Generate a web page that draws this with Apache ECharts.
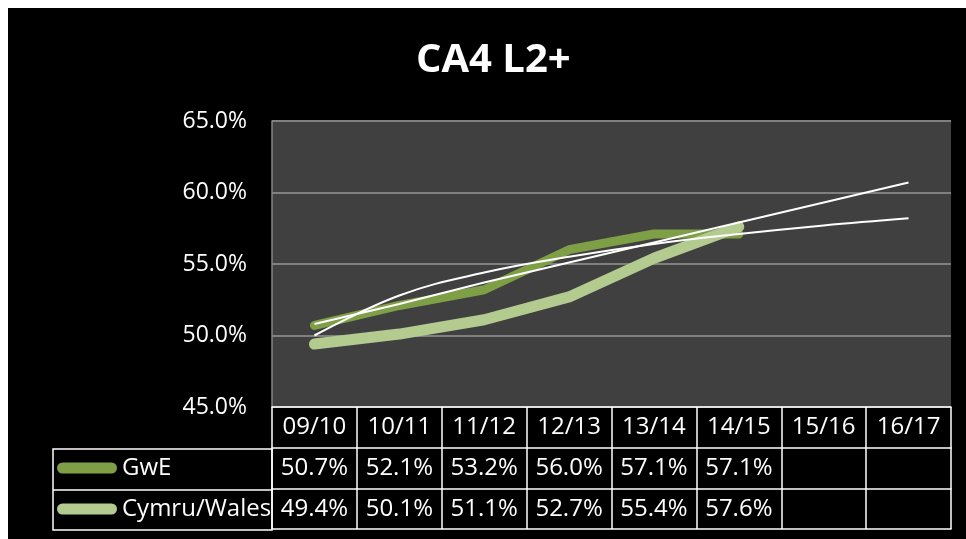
<!DOCTYPE html>
<html>
<head>
<meta charset="utf-8">
<script src="https://cdn.jsdelivr.net/npm/echarts@6/dist/echarts.min.js"></script>
<style>
  html, body { margin: 0; padding: 0; background: #fff; }
  #chart { position: absolute; left: 8px; top: 8px; width: 958px; height: 531px; }
</style>
</head>
<body>
<div id="chart"></div>
<script>
// school years
const years = ['09/10', '10/11', '11/12', '12/13', '13/14', '14/15', '15/16', '16/17'];
// CA4 L2+ (%)
const gwe = [50.7, 52.1, 53.2, 56.0, 57.1, 57.1, null, null];
const wales = [49.4, 50.1, 51.1, 52.7, 55.4, 57.6, null, null];
// white trend lines
const gweTrendLinear = [50.8, 52.2, 53.7, 55.1, 56.5, 57.9, 59.3, 60.7];
const gweTrendLog = [50.0, 52.8, 54.4, 55.5, 56.4, 57.1, 57.7, 58.2];
const yTicks = [45, 50, 55, 60, 65];

const FONT = '"Open Sans", "Noto Sans", sans-serif';
const GWE_COLOR = '#7f9f46';
const WALES_COLOR = '#b3cb8f';

const fmt = function (arr) {
    return function (v, i) {
        return arr[i] == null ? '' : arr[i].toFixed(1) + '%';
    };
};

// one category axis per table row, stacked under the plot
const tableAxis = function (offset, len, formatter) {
    return {
        type: 'category',
        data: years,
        position: 'bottom',
        offset: offset,
        axisLine: { show: true, lineStyle: { color: '#fff', width: 1.5 } },
        axisTick: { show: len > 0, interval: 0, length: len, lineStyle: { color: '#fff', width: 1.5 } },
        axisLabel: {
            show: !!formatter,
            interval: 0,
            formatter: formatter,
            color: '#fff',
            fontFamily: FONT,
            fontSize: 24,
            margin: 8
        },
        splitLine: { show: false }
    };
};

const chart = echarts.init(document.getElementById('chart'));

const option = {
    backgroundColor: '#000',
    animation: false,
    title: {
        text: 'CA4 L2+',
        left: 408,
        top: 33,
        padding: 0,
        textStyle: { color: '#fff', fontFamily: FONT, fontWeight: 'bold', fontSize: 40 }
    },
    legend: {
        data: ['GwE', 'Cymru/Wales'],
        orient: 'vertical',
        left: 49,
        top: 448,
        padding: 0,
        itemWidth: 60,
        itemHeight: 11,
        itemGap: 17,
        icon: 'path://M5.5,0 H54.5 A5.5,5.5 0 0 1 54.5,11 H5.5 A5.5,5.5 0 0 1 5.5,0 Z',
        textStyle: { color: '#fff', fontFamily: FONT, fontSize: 24 }
    },
    grid: {
        left: 264,
        right: 15,
        top: 113,
        bottom: 132,
        show: true,
        backgroundColor: '#404040',
        borderWidth: 0
    },
    xAxis: [
        tableAxis(0, 41, function (v) { return v; }),
        tableAxis(41, 41, fmt(gwe)),
        tableAxis(82, 40, fmt(wales)),
        tableAxis(122, 0, null)
    ],
    yAxis: {
        type: 'value',
        min: yTicks[0],
        max: yTicks[yTicks.length - 1],
        interval: 5,
        axisLine: { show: true, lineStyle: { color: '#868686', width: 1.5 } },
        axisTick: { show: false },
        splitLine: { lineStyle: { color: '#808080', width: 2 } },
        axisLabel: {
            color: '#fff',
            fontFamily: FONT,
            fontSize: 23,
            margin: 25,
            formatter: function (v) { return v.toFixed(1) + '%'; }
        }
    },
    graphic: [
        {
            type: 'rect',
            shape: { x: 45, y: 441, width: 219, height: 81 },
            style: { fill: 'none', stroke: '#fff', lineWidth: 1.5 }
        },
        {
            type: 'line',
            shape: { x1: 45, y1: 482, x2: 264, y2: 482 },
            style: { stroke: '#fff', lineWidth: 1.5 }
        }
    ],
    series: [
        {
            name: 'GwE',
            type: 'line',
            data: gwe,
            color: GWE_COLOR,
            showSymbol: false,
            symbol: 'none',
            lineStyle: { width: 9, color: GWE_COLOR, cap: 'round', join: 'round' }
        },
        {
            name: 'Cymru/Wales',
            type: 'line',
            data: wales,
            color: WALES_COLOR,
            showSymbol: false,
            symbol: 'none',
            lineStyle: { width: 11, color: WALES_COLOR, cap: 'round', join: 'round' }
        },
        {
            name: 'GwE linear',
            type: 'line',
            data: gweTrendLinear,
            symbol: 'none',
            silent: true,
            lineStyle: { width: 2, color: '#fff' }
        },
        {
            name: 'GwE log',
            type: 'line',
            data: gweTrendLog,
            symbol: 'none',
            smooth: 0.4,
            silent: true,
            lineStyle: { width: 2, color: '#fff' }
        }
    ]
};

chart.setOption(option);
</script>
</body>
</html>
